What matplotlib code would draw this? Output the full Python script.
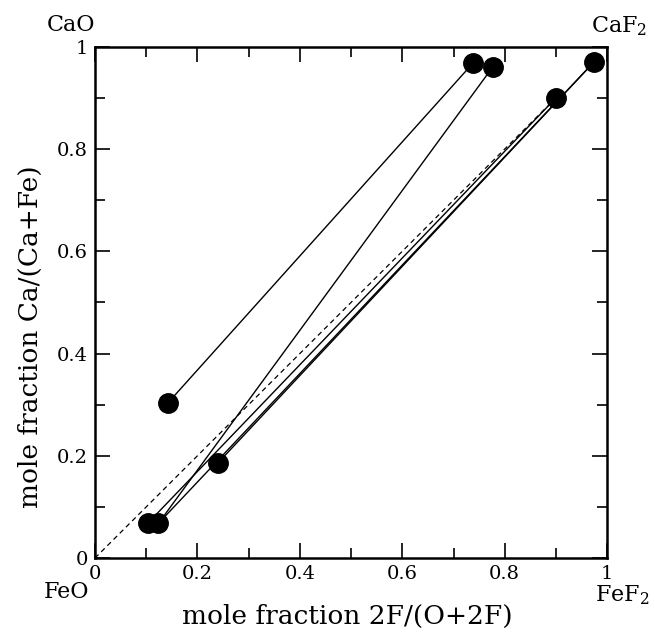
import numpy as np
import matplotlib
matplotlib.use("Agg")
import matplotlib.pyplot as plt
from matplotlib.ticker import MultipleLocator

plt.rcParams['font.family'] = ['DejaVu Serif']
plt.rcParams['mathtext.fontset'] = 'dejavuserif'

# tie lines: start (low F side) -> end (high F side)
x_start = [0.142, 0.124, 0.103, 0.124, 0.240]
y_start = [0.303, 0.068, 0.068, 0.068, 0.186]
x_end = [0.738, 0.777, 0.900, 0.975, 0.975]
y_end = [0.968, 0.961, 0.900, 0.971, 0.971]

# plotted points
pts_x = [0.142, 0.240, 0.103, 0.124, 0.738, 0.777, 0.900, 0.975]
pts_y = [0.303, 0.186, 0.068, 0.068, 0.968, 0.961, 0.900, 0.971]

diag = [0.0, 0.9]
ticks = [0, 0.2, 0.4, 0.6, 0.8, 1.0]
tick_labels = ['0', '0.2', '0.4', '0.6', '0.8', '1']

fig = plt.figure(figsize=(6.55, 6.32), dpi=100)
ax = fig.add_axes([0.145, 0.117, 0.782, 0.809])

ax.plot(diag, diag, '--', color='black', lw=0.9, dashes=(4, 3))
for i in range(len(x_start)):
    ax.plot([x_start[i], x_end[i]], [y_start[i], y_end[i]], '-', color='black', lw=1.0)
ax.plot(pts_x, pts_y, 'o', color='black', markersize=14, zorder=5)

ax.set_xlim(0, 1)
ax.set_ylim(0, 1)
ax.set_xticks(ticks)
ax.set_xticklabels(tick_labels)
ax.set_yticks(ticks)
ax.set_yticklabels(tick_labels)
ax.xaxis.set_minor_locator(MultipleLocator(0.1))
ax.yaxis.set_minor_locator(MultipleLocator(0.1))
ax.tick_params(which='both', direction='in', top=True, right=True, labelsize=14, width=1.2, pad=5)
ax.tick_params(which='major', length=11)
ax.tick_params(which='minor', length=7)
for s in ax.spines.values():
    s.set_linewidth(1.8)

fig.text(0.530, 0.024, 'mole fraction 2F/(O+2F)', fontsize=19, ha='center', va='center')
fig.text(0.047, 0.468, 'mole fraction Ca/(Ca+Fe)', fontsize=19, ha='center', va='center', rotation=90)

fig.text(0.108, 0.960, 'CaO', fontsize=16, ha='center', va='center')
fig.text(0.945, 0.959, 'CaF$_2$', fontsize=16, ha='center', va='center')
fig.text(0.102, 0.063, 'FeO', fontsize=16, ha='center', va='center')
fig.text(0.950, 0.058, 'FeF$_2$', fontsize=16, ha='center', va='center')

fig.savefig('out.png', dpi=100)
